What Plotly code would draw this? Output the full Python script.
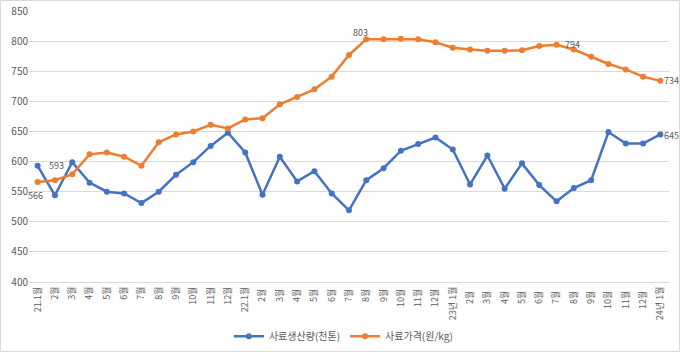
import plotly.graph_objects as go

categories = ["21.1월", "2월", "3월", "4월", "5월", "6월", "7월", "8월", "9월", "10월", "11월", "12월",
              "22.1월", "2월 ", "3월 ", "4월 ", "5월 ", "6월 ", "7월 ", "8월 ", "9월 ", "10월 ", "11월 ", "12월 ",
              "23년 1월", "2월  ", "3월  ", "4월  ", "5월  ", "6월  ", "7월  ", "8월  ", "9월  ", "10월  ", "11월  ", "12월  ",
              "24년 1월"]

production = [593, 544, 599, 565, 550, 547, 531, 550, 578, 599, 626, 648,
              615, 545, 608, 567, 584, 547, 519, 569, 589, 618, 629, 640,
              620, 562, 610, 555, 597, 561, 534, 556, 569, 649, 630, 630,
              645]

price = [566, 569, 579, 612, 615, 608, 593, 632, 645, 650, 661, 655,
         670, 672, 695, 707, 720, 741, 777, 803, 803, 804, 803, 798,
         789, 786, 784, 784, 785, 792, 794, 786, 774, 762, 753, 741,
         734]

# which points carry a data label: index -> (xshift, yshift) in px
prod_label_idx = {0: (19, 0), 36: (11, -1)}
price_label_idx = {0: (-2, -13), 19: (-6, 7), 30: (16, 0), 36: (11, 0)}

BLUE = "#4472C4"
ORANGE = "#ED7D31"
GRAY = "#595959"
FONT = "Noto Sans CJK KR"

fig = go.Figure()
fig.add_trace(go.Scatter(
    x=categories, y=production, name="사료생산량(천톤)", mode="lines+markers",
    line=dict(color=BLUE, width=2.5), marker=dict(size=6, color=BLUE),
))
fig.add_trace(go.Scatter(
    x=categories, y=price, name="사료가격(원/kg)", mode="lines+markers",
    line=dict(color=ORANGE, width=2.5), marker=dict(size=6, color=ORANGE),
))

annotations = []
for values, spec in ((production, prod_label_idx), (price, price_label_idx)):
    for i, (dx, dy) in spec.items():
        annotations.append(dict(
            x=categories[i], y=values[i], xref="x", yref="y", text=str(values[i]),
            showarrow=False, xshift=dx, yshift=dy,
            font=dict(family=FONT, size=9, color=GRAY),
        ))

fig.update_layout(
    width=680, height=352,
    margin=dict(l=29, r=11, t=11, b=70, autoexpand=False),
    paper_bgcolor="white", plot_bgcolor="white",
    font=dict(family=FONT, size=10, color=GRAY),
    showlegend=True,
    legend=dict(orientation="h", xref="container", yref="container",
                x=0.505, y=0.045, xanchor="center", yanchor="middle",
                font=dict(family=FONT, size=10, color=GRAY), itemwidth=30),
    xaxis=dict(type="category", range=[-0.5, 36.5], showgrid=False, tickangle=-90,
               automargin=False,
               tickfont=dict(family=FONT, size=9, color=GRAY),
               showline=True, linecolor="#D9D9D9", linewidth=1, ticks=""),
    yaxis=dict(range=[400, 850], dtick=50, showgrid=True, gridcolor="#D9D9D9", gridwidth=1,
               automargin=False,
               zeroline=False, tickfont=dict(family=FONT, size=10, color=GRAY), ticks=""),
    annotations=annotations,
    shapes=[dict(type="rect", xref="paper", yref="paper",
                 x0=-0.0445, x1=1.0164, y0=-0.2565, y1=1.0387,
                 line=dict(color="#D9D9D9", width=1), fillcolor="rgba(0,0,0,0)")],
)

fig.write_html("out.html")
